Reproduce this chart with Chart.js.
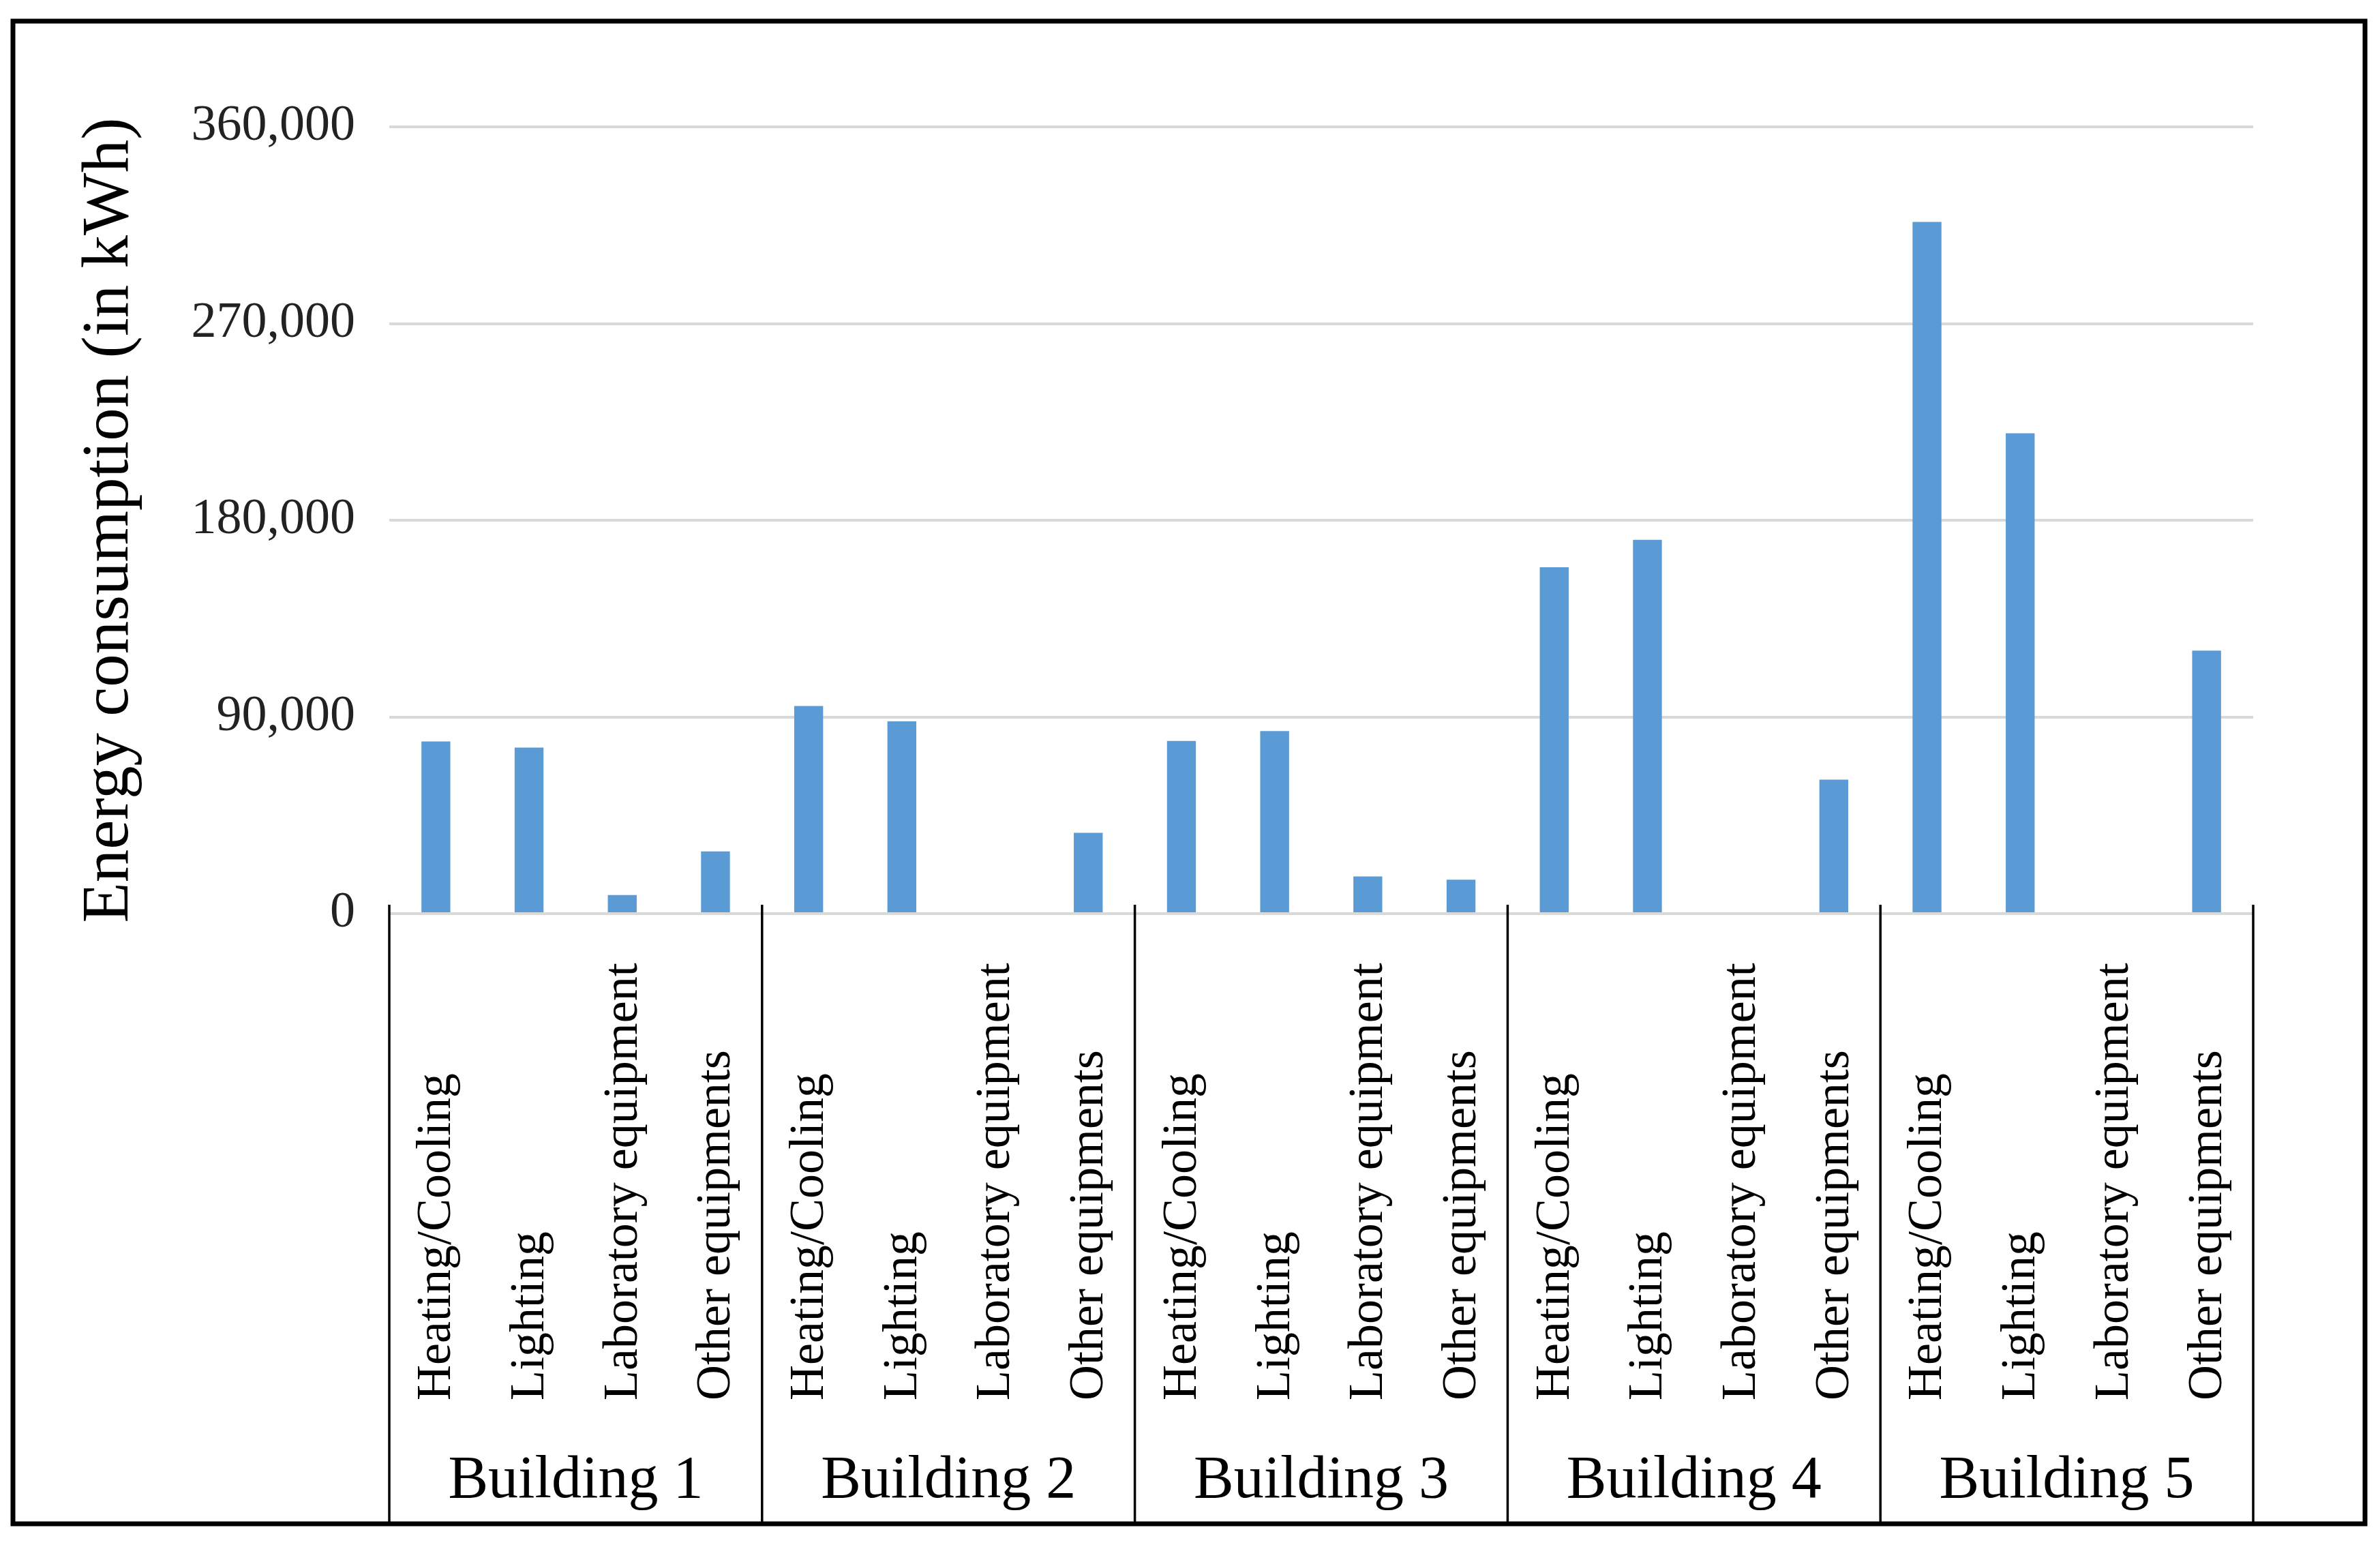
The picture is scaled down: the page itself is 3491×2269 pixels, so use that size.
<!DOCTYPE html>
<html>
<head>
<meta charset="utf-8">
<script src="https://cdn.jsdelivr.net/npm/chart.js@4.4.1/dist/chart.umd.min.js"></script>
<style>
  html, body { margin: 0; padding: 0; background: #ffffff; }
  #wrap { width: 3491px; height: 2269px; }
</style>
</head>
<body>
<div id="wrap"><canvas id="c" width="3491" height="2269"></canvas></div>
<script>
// ---- Data ----
const buildings = ['Building 1', 'Building 2', 'Building 3', 'Building 4', 'Building 5'];
const uses = ['Heating/Cooling', 'Lighting', 'Laboratory equipment', 'Other equipments'];
const building1 = [78800, 76000, 8500, 28500];
const building2 = [95000, 88000, 0, 37000];
const building3 = [79000, 83500, 17000, 15500];
const building4 = [158500, 171000, 0, 61300];
const building5 = [316500, 219800, 0, 120300];
const yTicks = [0, 90000, 180000, 270000, 360000];
const yTitle = 'Energy consumption (in kWh)';

const seriesByBuilding = [building1, building2, building3, building4, building5];
const labels = [];
const values = [];
buildings.forEach((b, bi) => {
  uses.forEach((u, ui) => {
    labels.push(u);
    values.push(seriesByBuilding[bi][ui]);
  });
});

const SERIF = '"Liberation Serif", "DejaVu Serif", serif';

const groupAxisPlugin = {
  id: 'groupAxis',
  afterDraw(chart) {
    const ctx = chart.ctx;
    const xs = chart.scales.x;
    const ys = chart.scales.y;
    const step = xs.getPixelForValue(1) - xs.getPixelForValue(0);
    const base = ys.getPixelForValue(0);
    ctx.save();
    // group separators
    ctx.strokeStyle = '#000000';
    ctx.lineWidth = 3.5;
    for (let g = 0; g <= buildings.length; g++) {
      const x = xs.getPixelForValue(g * uses.length) - step / 2;
      ctx.beginPath();
      ctx.moveTo(x, base - 13);
      ctx.lineTo(x, 2235);
      ctx.stroke();
    }
    // category labels (rotated, start-aligned at bottom)
    ctx.fillStyle = '#000000';
    ctx.font = '72px ' + SERIF;
    ctx.textAlign = 'left';
    ctx.textBaseline = 'middle';
    labels.forEach((lab, i) => {
      const x = xs.getPixelForValue(i);
      ctx.save();
      ctx.translate(x + 2, 2054);
      ctx.rotate(-Math.PI / 2);
      ctx.fillText(lab, 0, 0);
      ctx.restore();
    });
    // building labels
    ctx.font = '88px ' + SERIF;
    ctx.textAlign = 'center';
    ctx.textBaseline = 'alphabetic';
    buildings.forEach((b, g) => {
      const x0 = xs.getPixelForValue(g * uses.length);
      const x1 = xs.getPixelForValue(g * uses.length + uses.length - 1);
      ctx.fillText(b, (x0 + x1) / 2, 2196);
    });
    // outer frame
    ctx.lineWidth = 7;
    ctx.strokeRect(19, 31, 3469 - 19, 2235 - 31);
    ctx.restore();
  }
};

new Chart(document.getElementById('c'), {
  type: 'bar',
  data: {
    labels: labels,
    datasets: [{
      data: values,
      backgroundColor: '#5B9BD5',
      borderWidth: 0,
      barPercentage: 0.31,
      categoryPercentage: 1.0
    }]
  },
  options: {
    responsive: false,
    animation: false,
    devicePixelRatio: 1,
    layout: { padding: { left: 0, top: 186, right: 186, bottom: 929 } },
    plugins: { legend: { display: false }, tooltip: { enabled: false } },
    scales: {
      x: {
        display: false,
        offset: true
      },
      y: {
        min: 0,
        max: 360000,
        afterFit(s) { s.width = 571; },
        afterBuildTicks(s) { s.ticks = yTicks.map(v => ({ value: v })); },
        border: { display: false },
        grid: { color: '#D9D9D9', lineWidth: 4, drawTicks: false },
        ticks: {
          padding: 50,
          color: '#222222',
          font: { family: SERIF, size: 74 },
          callback: v => Number(v).toLocaleString('en-US')
        },
        title: {
          display: true,
          text: yTitle,
          color: '#000000',
          font: { family: SERIF, size: 97 },
          padding: { top: 103, bottom: 0 }
        }
      }
    }
  },
  plugins: [groupAxisPlugin]
});
</script>
</body>
</html>
